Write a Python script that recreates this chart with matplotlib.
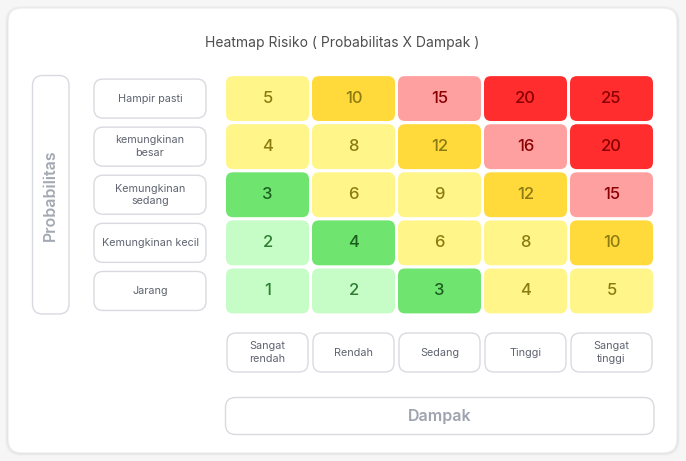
import matplotlib
matplotlib.use("Agg")
import matplotlib.pyplot as plt
from matplotlib.patches import FancyBboxPatch

plt.rcParams['font.family'] = ['Inter', 'DejaVu Sans']

#%% data
judul = "Heatmap Risiko ( Probabilitas X Dampak )"
probabilitas = ["Hampir pasti", "kemungkinan\nbesar", "Kemungkinan\nsedang",
                "Kemungkinan kecil", "Jarang"]
dampak = ["Sangat\nrendah", "Rendah", "Sedang", "Tinggi", "Sangat\ntinggi"]

nilai = [
    [5, 10, 15, 20, 25],
    [4, 8, 12, 16, 20],
    [3, 6, 9, 12, 15],
    [2, 4, 6, 8, 10],
    [1, 2, 3, 4, 5],
]
# level warna per sel (0 hijau muda .. 5 merah)
level = [
    [2, 3, 4, 5, 5],
    [2, 2, 3, 4, 5],
    [1, 2, 2, 3, 4],
    [0, 1, 2, 2, 3],
    [0, 0, 1, 2, 2],
]

warna_sel = ['#c6fdc6', '#6fe46f', '#fff588', '#ffda3a', '#ffa0a0', '#ff2d2d']
warna_teks = ['#2e7d32', '#1b5e20', '#8c7a12', '#8c7a12', '#8b0000', '#8b0000']

#%% figura
W, H = 686, 461
fig = plt.figure(figsize=(W / 100, H / 100), dpi=100)
fig.patch.set_facecolor('#f6f6f7')

bg = fig.add_axes([0, 0, 1, 1])
bg.set_xlim(0, W)
bg.set_ylim(H, 0)
bg.axis('off')

# sombra + tarjeta
for k, a in enumerate([0.02, 0.03, 0.045]):
    off = 3 - k
    bg.add_patch(FancyBboxPatch((8 - off, 9 - off), 669 + 2 * off, 444 + 2 * off,
                                boxstyle="round,pad=0,rounding_size=16",
                                fc='black', ec='none', alpha=a))
bg.add_patch(FancyBboxPatch((8, 8), 669, 445, boxstyle="round,pad=0,rounding_size=14",
                            fc='white', ec='#ececef', lw=0.8))

bg.text(342.5, 43, judul, ha='center', va='center', fontsize=10, color='#4d4d4d')

# caja Probabilitas
bg.add_patch(FancyBboxPatch((32.5, 75.5), 36.5, 238.5, boxstyle="round,pad=0,rounding_size=10",
                            fc='white', ec='#d9dae0', lw=1))
bg.text(50.5, 195, "Probabilitas", rotation=90, ha='center', va='center',
        fontsize=11.5, color='#a3a8b2', fontweight='semibold')

# caja Dampak
bg.add_patch(FancyBboxPatch((225.5, 397.5), 428.5, 37, boxstyle="round,pad=0,rounding_size=10",
                            fc='white', ec='#d9dae0', lw=1))
bg.text(439.5, 416, "Dampak", ha='center', va='center',
        fontsize=11.5, color='#9ea3ae', fontweight='semibold')

#%% heatmap
x0, x1, y0, y1 = 224.5, 654.5, 74.5, 315.0
ax = fig.add_axes([x0 / W, 1 - y1 / H, (x1 - x0) / W, (y1 - y0) / H])
nf, nc = len(probabilitas), len(dampak)
ax.set_xlim(-0.5, nc - 0.5)
ax.set_ylim(nf - 0.5, -0.5)
ax.axis('off')

px_x = (x1 - x0) / nc   # pixeles por unidad
px_y = (y1 - y0) / nf
asp = px_x / px_y
gx, gy = 1.5 / px_x, 1.6 / px_y

for i in range(nf):
    for j in range(nc):
        lv = level[i][j]
        ax.add_patch(FancyBboxPatch((j - 0.5 + gx, i - 0.5 + gy), 1 - 2 * gx, 1 - 2 * gy,
                                    boxstyle=f"round,pad=0,rounding_size={7 / px_x}",
                                    mutation_aspect=asp, fc=warna_sel[lv], ec='none'))
        ax.text(j, i, str(nilai[i][j]), ha='center', va='center',
                fontsize=12, fontweight='medium', color=warna_teks[lv])

# etiquetas de filas
lx0, lx1 = (94 - x0) / px_x - 0.5, (206 - x0) / px_x - 0.5
hb = 39 / px_y
for i, lab in enumerate(probabilitas):
    ax.add_patch(FancyBboxPatch((lx0, i - hb / 2), lx1 - lx0, hb,
                                boxstyle=f"round,pad=0,rounding_size={9 / px_x}",
                                mutation_aspect=asp, fc='white', ec='#d9dae0', lw=1,
                                clip_on=False))
    ax.text((lx0 + lx1) / 2, i, lab, ha='center', va='center', fontsize=7.8,
            color='#5f6470', linespacing=1.3, clip_on=False)

# etiquetas de columnas
yc = (352.5 - y0) / px_y - 0.5
wb = 81 / px_x
for j, lab in enumerate(dampak):
    ax.add_patch(FancyBboxPatch((j - wb / 2, yc - hb / 2), wb, hb,
                                boxstyle=f"round,pad=0,rounding_size={9 / px_x}",
                                mutation_aspect=asp, fc='white', ec='#d9dae0', lw=1,
                                clip_on=False))
    ax.text(j, yc, lab, ha='center', va='center', fontsize=7.8,
            color='#5f6470', linespacing=1.3, clip_on=False)

fig.savefig('out.png', dpi=100, facecolor=fig.get_facecolor())
